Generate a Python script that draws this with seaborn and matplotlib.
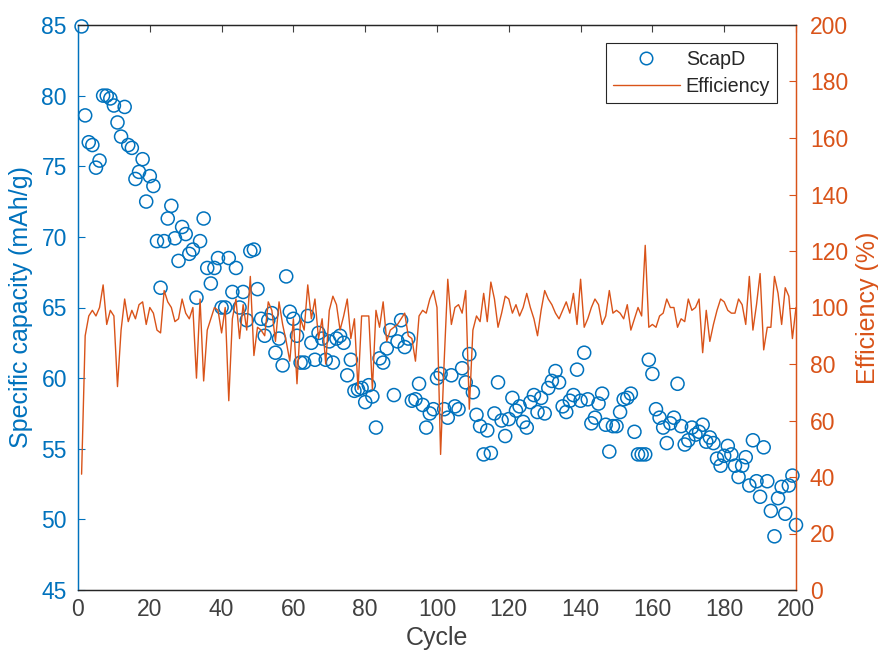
import numpy as np
import pandas as pd
import matplotlib
matplotlib.use("Agg")
import matplotlib.pyplot as plt
from matplotlib.lines import Line2D
import seaborn as sns

cycles = list(range(1, 201))
capacity = [
    84.9, 78.6, 76.7, 76.5, 74.9, 75.4, 80.0, 80.0, 79.8, 79.3,
    78.1, 77.1, 79.2, 76.5, 76.3, 74.1, 74.6, 75.5, 72.5, 74.3,
    73.6, 69.7, 66.4, 69.7, 71.3, 72.2, 69.9, 68.3, 70.7, 70.2,
    68.8, 69.1, 65.7, 69.7, 71.3, 67.8, 66.7, 67.8, 68.5, 65.0,
    65.0, 68.5, 66.1, 67.8, 65.0, 66.1, 64.1, 69.0, 69.1, 66.3,
    64.2, 63.0, 64.1, 64.6, 61.8, 62.8, 60.9, 67.2, 64.7, 64.2,
    63.0, 61.1, 61.1, 64.4, 62.5, 61.3, 63.2, 62.8, 61.3, 62.6,
    61.1, 62.8, 63.0, 62.5, 60.2, 61.3, 59.1, 59.2, 59.3, 58.3,
    59.5, 58.7, 56.5, 61.4, 61.1, 62.1, 63.4, 58.8, 62.6, 64.1,
    62.2, 62.8, 58.4, 58.5, 59.6, 58.1, 56.5, 57.5, 57.8, 60.0,
    60.3, 57.8, 57.2, 60.2, 58.0, 57.8, 60.7, 59.7, 61.7, 59.0,
    57.4, 56.6, 54.6, 56.3, 54.7, 57.5, 59.7, 57.0, 55.9, 57.1,
    58.6, 57.7, 58.0, 56.9, 56.5, 58.3, 58.8, 57.6, 58.6, 57.5,
    59.3, 59.8, 60.5, 59.7, 58.0, 57.6, 58.4, 58.8, 60.6, 58.4,
    61.8, 58.5, 56.8, 57.2, 58.2, 58.9, 56.7, 54.8, 56.6, 56.6,
    57.6, 58.5, 58.6, 58.9, 56.2, 54.6, 54.6, 54.6, 61.3, 60.3,
    57.8, 57.2, 56.5, 55.4, 56.8, 57.2, 59.6, 56.6, 55.3, 55.6,
    56.5, 56.0, 56.2, 56.7, 55.5, 55.8, 55.4, 54.3, 53.8, 54.5,
    55.2, 54.6, 53.8, 53.0, 53.8, 54.4, 52.4, 55.6, 52.7, 51.6,
    55.1, 52.7, 50.6, 48.8, 51.5, 52.3, 50.4, 52.4, 53.1, 49.6,
]
efficiency = [
    41, 90, 97, 99, 97, 100, 108, 94, 99, 97,
    72, 92, 103, 95, 99, 96, 101, 102, 94, 100,
    98, 92, 91, 106, 102, 100, 95, 96, 103, 98,
    96, 100, 75, 103, 74, 92, 96, 100, 99, 91,
    100, 67, 96, 103, 89, 101, 92, 111, 83, 93,
    92, 90, 102, 99, 88, 102, 94, 88, 81, 96,
    73, 96, 92, 108, 96, 103, 89, 96, 80, 99,
    104, 101, 92, 97, 103, 89, 96, 71, 97, 97,
    97, 71, 99, 93, 102, 88, 92, 93, 94, 96,
    98, 90, 89, 81, 97, 99, 98, 103, 106, 100,
    48, 81, 110, 94, 100, 101, 98, 106, 64, 92,
    97, 95, 105, 95, 109, 103, 93, 98, 104, 103,
    98, 101, 97, 100, 105, 100, 96, 90, 99, 106,
    103, 101, 98, 96, 99, 102, 98, 105, 94, 110,
    93, 96, 100, 103, 101, 94, 97, 106, 98, 99,
    98, 96, 101, 92, 96, 100, 97, 122, 93, 94,
    93, 97, 98, 103, 100, 100, 93, 96, 95, 103,
    99, 100, 103, 84, 99, 88, 94, 99, 103, 102,
    99, 98, 98, 103, 101, 94, 111, 92, 101, 112,
    85, 93, 93, 111, 105, 94, 107, 104, 89, 100,
]
x_ticks = list(range(0, 201, 20))
left_ticks = list(range(45, 86, 5))
right_ticks = list(range(0, 201, 20))

BLUE = "#0072BD"
ORANGE = "#D95319"
DARK = "#404040"

sns.set_style("white")
plt.rcParams["font.family"] = ["Liberation Sans", "DejaVu Sans"]
plt.rcParams["xtick.direction"] = "in"
plt.rcParams["ytick.direction"] = "in"

df = pd.DataFrame({"Cycle": cycles, "ScapD": capacity, "Efficiency": efficiency})

fig = plt.figure(figsize=(8.79, 6.57), dpi=100)
ax = fig.add_axes([78 / 879, 1 - 590 / 657, (796 - 78) / 879, (590 - 25) / 657])
ax2 = ax.twinx()

sns.scatterplot(data=df, x="Cycle", y="ScapD", ax=ax, marker="o",
                s=88, facecolor="none", edgecolor=BLUE, linewidth=1.1,
                legend=False, zorder=3)
for c in ax.collections:
    c.set_clip_on(False)
sns.lineplot(data=df, x="Cycle", y="Efficiency", ax=ax2, color=ORANGE,
             linewidth=1.0, legend=False)

ax.set_xlim(0, 200)
ax.set_ylim(45, 85)
ax2.set_ylim(0, 200)
ax.set_xticks(x_ticks)
ax.set_yticks(left_ticks)
ax2.set_yticks(right_ticks)

ax.set_xlabel("Cycle", fontsize=18, color=DARK, labelpad=3)
ax.set_ylabel("Specific capacity (mAh/g)", fontsize=18, color=BLUE, labelpad=6)
ax2.set_ylabel("Efficiency (%)", fontsize=18, color=ORANGE, labelpad=6)

ax.tick_params(axis="x", colors=DARK, labelsize=16.5, length=5, width=0.8,
               top=True, direction="in", pad=6)
ax.tick_params(axis="y", colors=BLUE, labelsize=16.5, length=5, width=0.8,
               direction="in", left=True, right=False, pad=8)
ax2.tick_params(axis="y", colors=ORANGE, labelsize=16.5, length=5, width=0.8,
                direction="in", right=True, left=False, pad=10)
ax2.tick_params(axis="x", top=False, bottom=False)

for a in (ax, ax2):
    for s in a.spines.values():
        s.set_visible(True)
        s.set_linewidth(0.9)
    a.spines["top"].set_color("#262626")
    a.spines["bottom"].set_color("#262626")
    a.spines["left"].set_color(BLUE)
    a.spines["right"].set_color(ORANGE)

h_sc = Line2D([], [], marker="o", linestyle="none", markerfacecolor="none",
              markeredgecolor=BLUE, markersize=9, markeredgewidth=1.1)
h_ln = Line2D([], [], color=ORANGE, linewidth=1.0)
leg = ax2.legend([h_sc, h_ln], ["ScapD", "Efficiency"], loc="upper right",
                 bbox_to_anchor=(1 - 19 / 718, 1 - 18 / 565), borderaxespad=0,
                 fontsize=14.2, frameon=True, fancybox=False, framealpha=1,
                 edgecolor="#262626", handlelength=3.4, borderpad=0.35,
                 labelspacing=0.4, handletextpad=0.3)
leg.get_frame().set_linewidth(0.8)
for t in leg.get_texts():
    t.set_color("#262626")

fig.savefig("out.png", dpi=100)
